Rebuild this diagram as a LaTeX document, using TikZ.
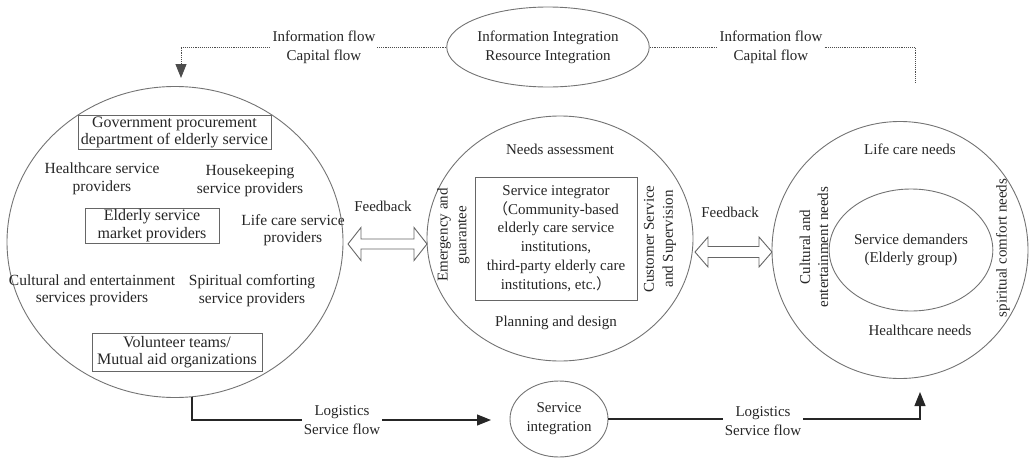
\documentclass[tikz,border=0pt]{standalone}
\usepackage{fontspec}
\setmainfont{Liberation Serif}
\newfontfamily\cjkfont{Noto Sans CJK SC}
\usetikzlibrary{arrows.meta,shapes.geometric}
\begin{document}
\begin{tikzpicture}[x=1pt,y=-1pt,
  font=\fontsize{15}{18.8}\selectfont,
  ring/.style={draw=black!55, line width=0.9pt, ellipse, inner sep=0pt},
  txt/.style={align=center, inner sep=1pt, text=black!85},
  boxed/.style={txt, draw=black!60, line width=0.8pt, font=\fontsize{16}{17.5}\selectfont},
  bigtxt/.style={txt, font=\fontsize{15.5}{17.5}\selectfont},
  dotline/.style={draw=black!70, line width=0.9pt, densely dotted},
  solidline/.style={draw=black!85, line width=1.1pt},
  tip/.style={-{Triangle[width=11pt,length=14pt]}},
  lbl/.style={txt, fill=white, inner sep=2pt},
  hollow/.style={draw=black!60, fill=white, line width=0.9pt, line join=miter}
]
\useasboundingbox (0,0) rectangle (1031,458);

% main shapes
\node[ring, minimum width=336pt, minimum height=311pt] (leftc) at (175,242) {};
\node[ring, minimum width=266pt, minimum height=245pt] (midc) at (560,238.5) {};
\node[ring, minimum width=256pt, minimum height=257pt] (rightc) at (900,250) {};
\node[ring, minimum width=138pt, minimum height=122pt, txt] (inner) at (911,250) {Service demanders\\(Elderly group)};
\node[ring, minimum width=160pt, minimum height=80pt, txt] (topell) at (548,47) {Information Integration\\Resource Integration};
\node[ring, minimum width=98pt, minimum height=76pt, txt] (sint) at (559,419) {Service\\integration};

% left circle content
\node[boxed, minimum width=193pt, minimum height=33pt] (gov) at (174.5,132.5) {Government procurement\\department of elderly service};
\node[bigtxt] (health) at (102,179) {Healthcare service\\providers};
\node[bigtxt] (house) at (250,181) {Housekeeping\\service providers};
\node[boxed, minimum width=134pt, minimum height=35pt] (market) at (152,225.5) {Elderly service\\market providers};
\node[bigtxt] (lifep) at (293,230) {Life care service\\providers};
\node[bigtxt] (cultp) at (92,290.5) {Cultural and entertainment\\services providers};
\node[bigtxt] (spirp) at (252,290.5) {Spiritual comforting\\service providers};
\node[boxed, minimum width=170pt, minimum height=38pt] (vol) at (177,352) {Volunteer teams/\\Mutual aid organizations};

% middle circle content
\node[txt] (needs) at (560,149) {Needs assessment};
\node[txt, draw=black!60, line width=0.8pt, minimum width=162pt, minimum height=123pt] (integ) at (556,238.5)
  {Service integrator\\{\cjkfont （}Community-based\\elderly care service\\institutions,\\third-party elderly care\\institutions, etc.{\cjkfont ）}};
\node[txt] (plan) at (556,323) {Planning and design};
\node[txt, rotate=90] (emerg) at (453.5,235) {Emergency and\\guarantee};
\node[txt, rotate=90] (cust) at (660,239) {Customer Service\\and Supervision};

% right circle content
\node[txt] (lifen) at (910,149) {Life care needs};
\node[txt] (healthn) at (920,330) {Healthcare needs};
\node[txt, rotate=90, font=\fontsize{15}{18}\selectfont] (cultn) at (814,247) {Cultural and\\entertainment needs};
\node[txt, rotate=90] (spirn) at (1003,248) {spiritual comfort needs};

% feedback double arrows
\draw[hollow] (348,244) -- (361,227.5) -- (361,239) -- (414,239) -- (414,227.5) -- (427,244)
  -- (414,260.5) -- (414,249) -- (361,249) -- (361,260.5) -- cycle;
\draw[hollow] (695,252) -- (708,237) -- (708,246.5) -- (759,246.5) -- (759,237) -- (772,252)
  -- (759,267) -- (759,257.5) -- (708,257.5) -- (708,267) -- cycle;
\node[txt] (fb1) at (383,206) {Feedback};
\node[txt] (fb2) at (730,212) {Feedback};

% top dotted flows
\coordinate (arrtop) at (181,78);
\coordinate (endr) at (915,82);
\draw[dotline, tip] (topell.west) -| (arrtop);
\draw[dotline] (topell.east) -| (endr);
\node[lbl] (info1) at (324,47.5) {Information flow\\Capital flow};
\node[lbl] (info2) at (771,47.5) {Information flow\\Capital flow};

% bottom solid flows
\coordinate (lb) at (192,397);
\coordinate (lbend) at (491,420);
\coordinate (rbend) at (920,392);
\draw[solidline, tip] (lb) |- (lbend);
\draw[solidline, tip] (sint.east) -| (rbend);
\node[lbl] (log1) at (342,420) {Logistics\\Service flow};
\node[lbl] (log2) at (763,421) {Logistics\\Service flow};
\end{tikzpicture}
\end{document}
